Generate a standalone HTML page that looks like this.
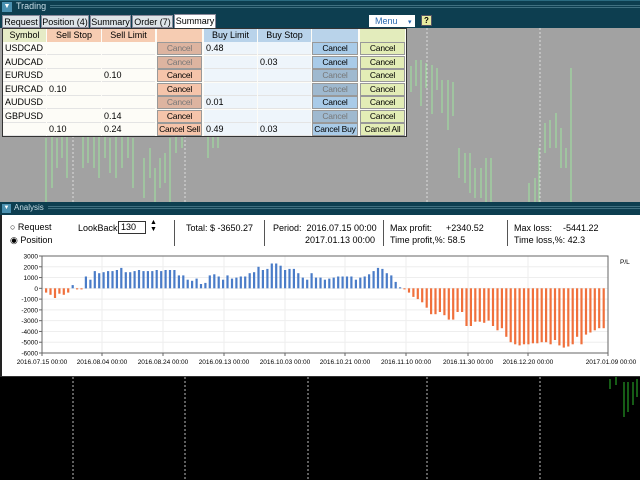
<!DOCTYPE html>
<html><head><style>
*{margin:0;padding:0;box-sizing:border-box}
body{width:640px;height:480px;overflow:hidden;background:#000;font-family:"Liberation Sans",sans-serif;position:relative}
.abs{position:absolute}
.bar{background:#0c3f52;border-top:1px solid #2a6a80}
.t{position:absolute;font-size:9px;color:#000;line-height:13px;white-space:nowrap}
.c{text-align:center}
</style></head><body>
<div class="abs bar" style="left:0;top:0;width:640px;height:28px;background:#0d3e50"></div>
<div class="abs" style="left:2px;top:2px;width:10px;height:10px;background:#4a90b0;color:#fff;font-size:7px;text-align:center;line-height:10px">▼</div>
<div class="abs" style="left:16px;top:1px;font-size:9px;color:#c8dde6">Trading</div>
<div class="abs" style="left:50px;top:5px;width:590px;height:3px;border-top:1px solid #3f6f80;border-bottom:1px solid #3f6f80"></div>
<div class="t" style="left:2px;top:15px;width:38px;height:13px;background:#dde4e8;border:1px solid #889;text-align:center">Request</div>
<div class="t" style="left:41px;top:15px;width:48px;height:13px;background:#dde4e8;border:1px solid #889;text-align:center">Position (4)</div>
<div class="t" style="left:90px;top:15px;width:41px;height:13px;background:#dde4e8;border:1px solid #889;text-align:center">Summary</div>
<div class="t" style="left:132px;top:15px;width:41px;height:13px;background:#dde4e8;border:1px solid #889;text-align:center">Order (7)</div>
<div class="t" style="left:174px;top:14px;width:42px;height:15px;background:#fff;border:1px solid #889;text-align:center">Summary</div>
<div class="t" style="left:369px;top:15px;width:46px;height:12px;background:#fff;color:#2a6ab0;padding-left:6px;line-height:12px">Menu <span style="margin-left:8px;font-size:7px">▾</span></div>
<div class="t" style="left:421px;top:15px;width:11px;height:11px;background:#e8eca0;border:1px solid #556;text-align:center;line-height:10px;font-weight:bold;font-size:8px">?</div>
<div class="abs" style="left:0;top:28px;width:640px;height:174px;background:#a2a2a2"></div>
<svg class="abs" style="left:0;top:28px" width="640" height="174">
<g stroke="#dcdcdc" stroke-dasharray="2,2"><line x1="73" y1="0" x2="73" y2="174"/><line x1="185" y1="0" x2="185" y2="174"/><line x1="427" y1="0" x2="427" y2="174"/><line x1="540" y1="0" x2="540" y2="174"/></g>
<g stroke="#9fdc9f" stroke-width="1.2">
<line x1="46" y1="110" x2="46" y2="174"/><line x1="52" y1="100" x2="52" y2="160"/><line x1="57" y1="110" x2="57" y2="140"/><line x1="62" y1="105" x2="62" y2="130"/><line x1="67" y1="108" x2="67" y2="150"/><line x1="83" y1="100" x2="83" y2="140"/><line x1="88" y1="95" x2="88" y2="135"/><line x1="94" y1="105" x2="94" y2="140"/><line x1="99" y1="100" x2="99" y2="150"/><line x1="105" y1="105" x2="105" y2="130"/><line x1="110" y1="110" x2="110" y2="145"/><line x1="116" y1="100" x2="116" y2="150"/><line x1="122" y1="108" x2="122" y2="140"/><line x1="128" y1="100" x2="128" y2="130"/><line x1="133" y1="110" x2="133" y2="160"/><line x1="144" y1="130" x2="144" y2="170"/><line x1="150" y1="120" x2="150" y2="150"/><line x1="155" y1="140" x2="155" y2="174"/><line x1="160" y1="130" x2="160" y2="160"/><line x1="165" y1="125" x2="165" y2="155"/><line x1="170" y1="110" x2="170" y2="174"/><line x1="176" y1="108" x2="176" y2="125"/><line x1="182" y1="108" x2="182" y2="120"/><line x1="208" y1="108" x2="208" y2="130"/><line x1="213" y1="108" x2="213" y2="120"/><line x1="218" y1="108" x2="218" y2="120"/>
<line x1="411" y1="38" x2="411" y2="64"/><line x1="416" y1="32" x2="416" y2="58"/><line x1="421" y1="32" x2="421" y2="78"/><line x1="426" y1="35" x2="426" y2="60"/><line x1="432" y1="37" x2="432" y2="86"/><line x1="437" y1="40" x2="437" y2="62"/><line x1="442" y1="52" x2="442" y2="85"/><line x1="448" y1="52" x2="448" y2="102"/><line x1="453" y1="54" x2="453" y2="88"/><line x1="459" y1="120" x2="459" y2="150"/><line x1="465" y1="125" x2="465" y2="155"/><line x1="470" y1="125" x2="470" y2="165"/><line x1="475" y1="140" x2="475" y2="170"/><line x1="481" y1="140" x2="481" y2="170"/><line x1="486" y1="130" x2="486" y2="174"/><line x1="491" y1="130" x2="491" y2="174"/><line x1="529" y1="155" x2="529" y2="174"/><line x1="535" y1="150" x2="535" y2="174"/><line x1="539" y1="120" x2="539" y2="174"/><line x1="545" y1="95" x2="545" y2="125"/><line x1="550" y1="92" x2="550" y2="120"/><line x1="556" y1="85" x2="556" y2="120"/><line x1="561" y1="100" x2="561" y2="140"/><line x1="566" y1="120" x2="566" y2="140"/><line x1="571" y1="40" x2="571" y2="174"/>
</g></svg>
<div class="abs" style="left:2px;top:28px;width:405px;height:109px;background:#fdfcf7;border:1px solid #333"></div>
<div id="tbl"></div>
<div class="abs" style="left:0;top:202px;width:640px;height:13px;background:#0d3e50"></div>
<div class="abs" style="left:2px;top:204px;width:9px;height:9px;background:#4a90b0;color:#fff;font-size:6px;text-align:center;line-height:9px">▼</div>
<div class="abs" style="left:14px;top:203px;font-size:8px;color:#c8dde6">Analysis</div>
<div class="abs" style="left:48px;top:206px;width:592px;height:3px;border-top:1px solid #3f6f80;border-bottom:1px solid #3f6f80"></div>
<div class="abs" style="left:0;top:215px;width:640px;height:162px;background:#fff;border-left:2px solid #222;border-bottom:1px solid #333"></div>
<div class="t" style="left:10px;top:221px;font-size:9px">○ Request</div>
<div class="t" style="left:10px;top:234px;font-size:9px">◉ Position</div>
<div class="t" style="left:78px;top:222px">LookBack</div>
<div class="t" style="left:118px;top:221px;width:28px;height:13px;border:1px solid #333;padding-left:2px;line-height:11px">130</div>
<div class="t" style="left:150px;top:219px;font-size:7px;line-height:7px">▲<br>▼</div>
<div class="abs" style="left:174px;top:220px;width:1px;height:26px;background:#555"></div>
<div class="t" style="left:186px;top:222px">Total: $ -3650.27</div>
<div class="abs" style="left:264px;top:220px;width:1px;height:26px;background:#555"></div>
<div class="t" style="left:273px;top:222px">Period:&nbsp; 2016.07.15 00:00</div>
<div class="t" style="left:305px;top:234px">2017.01.13 00:00</div>
<div class="abs" style="left:383px;top:220px;width:1px;height:26px;background:#555"></div>
<div class="t" style="left:390px;top:222px">Max profit:</div>
<div class="t" style="left:446px;top:222px">+2340.52</div>
<div class="t" style="left:390px;top:234px">Time profit,%: 58.5</div>
<div class="abs" style="left:507px;top:220px;width:1px;height:26px;background:#555"></div>
<div class="t" style="left:514px;top:222px">Max loss:</div>
<div class="t" style="left:563px;top:222px">-5441.22</div>
<div class="t" style="left:514px;top:234px">Time loss,%: 42.3</div>
<svg id="ch" class="abs" style="left:0;top:245px" width="640" height="130"></svg>
<svg class="abs" style="left:0;top:377px" width="640" height="103">
<g stroke="#bbb" stroke-dasharray="2,2"><line x1="73" y1="0" x2="73" y2="103"/><line x1="185" y1="0" x2="185" y2="103"/><line x1="308" y1="0" x2="308" y2="103"/><line x1="427" y1="0" x2="427" y2="103"/><line x1="540" y1="0" x2="540" y2="103"/></g>
<g stroke="#2bb82b"><line x1="610" y1="2" x2="610" y2="12"/><line x1="616" y1="0" x2="616" y2="8"/><line x1="624" y1="5" x2="624" y2="40"/><line x1="628" y1="5" x2="628" y2="35"/><line x1="633" y1="5" x2="633" y2="28"/><line x1="637" y1="2" x2="637" y2="20"/></g>
</svg>
<script>
var cols=[[3,44],[47,55],[102,54],[157,46],[204,54],[258,54],[312,47],[360,46]];
var hdr=["Symbol","Sell Stop","Sell Limit","","Buy Limit","Buy Stop","",""];
var hbg=["#e6ebc6","#f6ccb2","#f6ccb2","#f6ccb2","#b9d3ea","#b9d3ea","#b9d3ea","#e3ecbc"];
var dbg=["#fdfcf7","#fdfcf7","#fdfcf7","#f5c4aa","#eef5fb","#eef5fb","#a9cbe8","#e3edb6"];
var rows=[["USDCAD","","","Cancel*","0.48","","Cancel","Cancel"],["AUDCAD","","","Cancel*","","0.03","Cancel","Cancel"],["EURUSD","","0.10","Cancel","","","Cancel*","Cancel"],["EURCAD","0.10","","Cancel","","","Cancel*","Cancel"],["AUDUSD","","","Cancel*","0.01","","Cancel","Cancel"],["GBPUSD","","0.14","Cancel","","","Cancel*","Cancel"],["","0.10","0.24","Cancel Sell","0.49","0.03","Cancel Buy","Cancel All"]];
var h="";
cols.forEach(function(c,i){h+='<div class="t c" style="left:'+c[0]+'px;top:29px;width:'+(c[1]-1)+'px;height:13px;background:'+hbg[i]+'">'+hdr[i]+'</div>';});
rows.forEach(function(r,j){var y=42+j*13.5;cols.forEach(function(c,i){var txt=r[i],dim=false;if(txt.slice(-1)=="*"){txt=txt.slice(0,-1);dim=true;}
var btn=(i==3||i>=6);var bg=dbg[i];if(dim)bg=(i==3?"#ddb4a0":"#9fb9cf");
h+='<div class="t'+(btn?' c':'')+'" style="left:'+c[0]+'px;top:'+y+'px;width:'+(c[1]-1)+'px;height:13px;background:'+bg+';padding-left:'+(btn?0:2)+'px;'+(btn?'font-size:8.5px;letter-spacing:-0.2px;':'')+(dim?'color:#777;':'')+(btn?'border:1px solid #999;line-height:11px;':'border-bottom:1px solid #e4e4e4;')+'">'+txt+'</div>';});});
document.getElementById("tbl").innerHTML=h;
var v=[-400,-600,-900,-500,-600,-400,300,-100,-100,1100,800,1600,1400,1500,1600,1600,1700,1900,1500,1500,1600,1700,1600,1600,1600,1700,1600,1700,1700,1700,1200,1200,800,700,900,400,500,1200,1300,1100,800,1200,900,1000,1100,1100,1400,1500,2000,1700,1800,2300,2300,2100,1700,1800,1800,1400,1000,800,1400,1000,1000,800,900,1000,1100,1100,1100,1100,800,1000,1100,1300,1600,1900,1800,1400,1200,600,100,-100,-400,-800,-1000,-1300,-1800,-2400,-2400,-2200,-2500,-2900,-2900,-2200,-2200,-3500,-3500,-3100,-3100,-3200,-3000,-3500,-3900,-3700,-4500,-5000,-5200,-5300,-5200,-5200,-5100,-5100,-5000,-5000,-5200,-4800,-5300,-5500,-5400,-5200,-4500,-5200,-4300,-4100,-3900,-3700,-3700];
var X0=42,X1=608,T=256-245,B=353-245,sc=(B-T)/9000,Z=T+3000*sc;
var s='';
for(var k=1;k<9;k++){var yy=T+k*(B-T)/9;s+='<line x1="'+X0+'" y1="'+yy+'" x2="'+X1+'" y2="'+yy+'" stroke="#eee"/>';}
var xs=[42,102,163,224,285,345,406,468,528,608];
xs.forEach(function(x){s+='<line x1="'+x+'" y1="'+T+'" x2="'+x+'" y2="'+B+'" stroke="#eee"/>';});
var n=v.length,w=(X1-X0-4)/n;
v.forEach(function(a,i){var x=X0+3+i*w;var y=Z-Math.max(a,0)*sc,hh=Math.abs(a)*sc;s+='<rect x="'+x.toFixed(1)+'" y="'+y.toFixed(1)+'" width="2.2" height="'+hh.toFixed(1)+'" fill="'+(a>=0?'#4a7cc8':'#f0703c')+'"/>';});
s+='<rect x="'+X0+'" y="'+T+'" width="'+(X1-X0)+'" height="'+(B-T)+'" fill="none" stroke="#666"/>';
for(var k=0;k<10;k++){var yy=T+k*(B-T)/9;s+='<text x="38" y="'+(yy+2.5)+'" font-size="6.5" text-anchor="end" font-family="Liberation Sans">'+(3000-k*1000)+'</text><line x1="39" x2="42" y1="'+yy+'" y2="'+yy+'" stroke="#666"/>';}
var lb=["2016.07.15 00:00","2016.08.04 00:00","2016.08.24 00:00","2016.09.13 00:00","2016.10.03 00:00","2016.10.21 00:00","2016.11.10 00:00","2016.11.30 00:00","2016.12.20 00:00","2017.01.09 00:00"];
xs.forEach(function(x,i){s+='<line x1="'+x+'" x2="'+x+'" y1="'+B+'" y2="'+(B+3)+'" stroke="#666"/><text x="'+(i==9?x+3:x)+'" y="'+(B+11)+'" font-size="6.5" text-anchor="middle" font-family="Liberation Sans">'+lb[i]+'</text>';});
s+='<text x="620" y="19" font-size="6.5" font-family="Liberation Sans">P/L</text>';
document.getElementById("ch").innerHTML=s;
</script>
</body></html>
